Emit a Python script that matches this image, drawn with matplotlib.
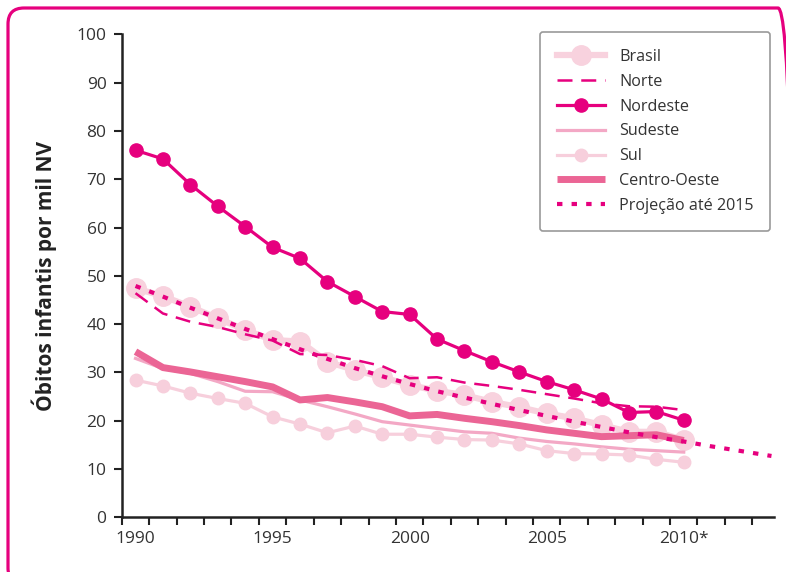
import matplotlib
matplotlib.use("Agg")
import matplotlib.pyplot as plt
from matplotlib.patches import FancyBboxPatch
from matplotlib.transforms import Affine2D

plt.rcParams['font.family'] = ['Open Sans', 'DejaVu Sans']

# data
years = list(range(1990, 2011))
brasil = [47.4, 45.8, 43.6, 41.2, 38.8, 36.7, 36.4, 32.2, 30.5, 29.0, 27.4,
          26.2, 25.3, 23.9, 22.8, 21.5, 20.5, 19.1, 17.7, 17.7, 16.0]
norte = [46.4, 42.2, 40.5, 39.4, 37.9, 36.6, 33.8, 33.6, 32.6, 31.3, 28.8,
         29.0, 27.9, 27.2, 26.4, 25.5, 24.6, 23.6, 23.0, 22.9, 22.2]
nordeste = [76.0, 74.2, 68.9, 64.4, 60.2, 55.9, 53.6, 48.8, 45.7, 42.6, 42.0,
            36.9, 34.5, 32.2, 30.1, 28.1, 26.4, 24.5, 21.7, 21.9, 20.1]
sudeste = [32.9, 30.8, 29.8, 28.1, 26.1, 26.0, 24.3, 22.9, 21.4, 19.8, 19.1,
           18.4, 17.7, 17.4, 16.4, 15.7, 15.2, 14.6, 14.1, 13.8, 13.5]
sul = [28.4, 27.2, 25.7, 24.6, 23.6, 20.8, 19.3, 17.5, 18.9, 17.2, 17.2,
       16.6, 16.1, 16.0, 15.2, 13.8, 13.2, 13.1, 12.9, 12.0, 11.4]
centro_oeste = [34.3, 31.0, 30.1, 29.1, 28.1, 27.0, 24.3, 24.8, 23.9, 22.9, 21.0,
                21.3, 20.5, 19.8, 19.0, 18.1, 17.4, 16.7, 16.9, 17.1, 15.9]
proj_years = years + [2011, 2012, 2013.2]
projecao = [47.9, 45.7, 43.4, 41.2, 39.0, 36.9, 34.8, 32.8, 30.9, 29.2, 27.6,
            26.1, 24.8, 23.5, 22.2, 21.0, 19.8, 18.7, 17.6, 16.6, 15.7,
            14.7, 13.8, 12.7]

tick_years = [1990, 1995, 2000, 2005, 2010]
tick_labels = ['1990', '1995', '2000', '2005', '2010*']

magenta = '#E6007E'

fig = plt.figure(figsize=(7.86, 5.72), dpi=100, facecolor='white')
ax = fig.add_axes([0.155, 0.0956, 0.830, 0.8444])

ax.plot(years, brasil, color='#F8D2DE', lw=4.5, marker='o', ms=14,
        label='Brasil', zorder=2)
ax.plot(years, norte, color=magenta, lw=1.8, dashes=(6, 3.5),
        label='Norte', zorder=5)
ax.plot(years, nordeste, color=magenta, lw=2.3, marker='o', ms=9.5,
        label='Nordeste', zorder=6)
ax.plot(years, sudeste, color='#F3A8C5', lw=2.3, label='Sudeste', zorder=3)
ax.plot(years, sul, color='#F7CFDC', lw=2.3, marker='o', ms=9,
        label='Sul', zorder=3)
ax.plot(years, centro_oeste, color='#EB6595', lw=5, solid_capstyle='butt',
        label='Centro-Oeste', zorder=4)
ax.plot(proj_years, projecao, color=magenta, lw=3, dashes=(1.3, 2.2),
        label='Projeção até 2015', zorder=5)

ax.set_xlim(1989.5, 2013.3)
ax.set_ylim(0, 100)
ax.set_yticks(range(0, 101, 10))
ax.set_xticks([1989.5 + k for k in range(24)])
ax.set_xticklabels([])
ax.set_xticks(tick_years, minor=True)
ax.set_xticklabels(tick_labels, minor=True)
ax.tick_params(axis='x', which='minor', length=0, pad=10, labelsize=12.5,
               colors='#333333')
ax.tick_params(axis='x', which='major', length=6, width=1.5, direction='out',
               color='#222222')
ax.tick_params(axis='y', length=6, width=1.5, direction='out', labelsize=12.5,
               color='#222222', labelcolor='#333333', pad=5)

for s in ['top', 'right']:
    ax.spines[s].set_visible(False)
for s in ['left', 'bottom']:
    ax.spines[s].set_linewidth(1.8)
    ax.spines[s].set_color('#222222')

ax.set_ylabel('Óbitos infantis por mil NV', fontsize=15, fontweight='bold',
              color='#222222')
ax.yaxis.set_label_coords(-0.099, 0.5)

leg = ax.legend(loc='upper right', bbox_to_anchor=(0.994, 1.005),
                borderaxespad=0, fontsize=11.6, handlelength=3.0,
                labelspacing=0.55, handletextpad=0.85, borderpad=1.05,
                fancybox=True, framealpha=1, edgecolor='#999999',
                numpoints=1)
leg.get_frame().set_linewidth(1.2)
for t in leg.get_texts():
    t.set_color('#333333')

# rounded magenta frame around the whole picture
px = Affine2D().scale(1 / 100.0) + fig.dpi_scale_trans
border = FancyBboxPatch((8, -12), 786, 572 - 8 + 12,
                        boxstyle='round,pad=0,rounding_size=16',
                        transform=px, fill=False, edgecolor=magenta,
                        linewidth=2.3)
fig.patches.append(border)

fig.savefig('out.png', dpi=100, facecolor='white')
